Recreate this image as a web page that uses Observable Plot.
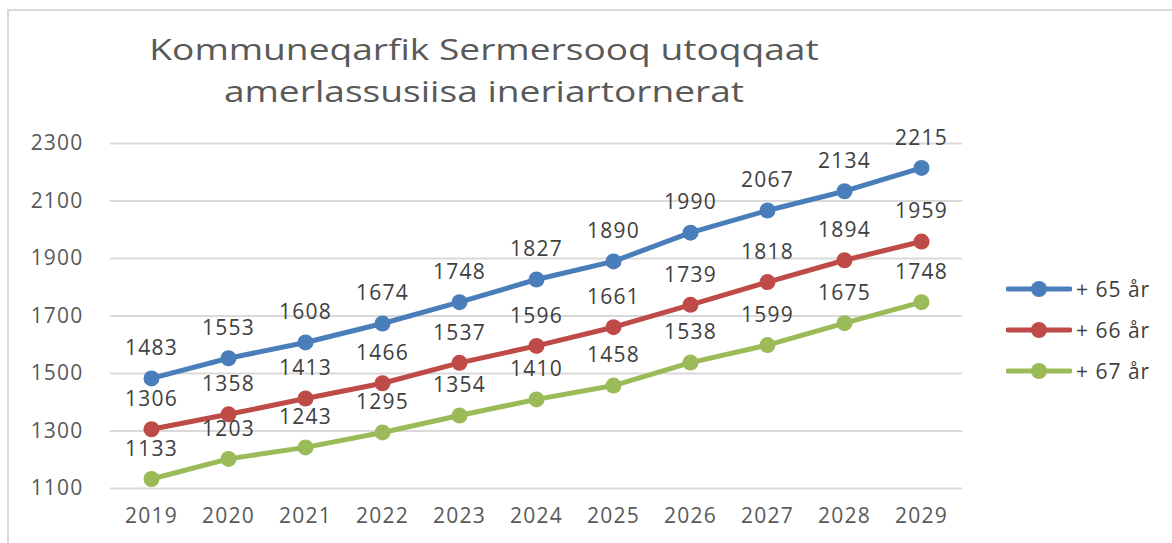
<!DOCTYPE html>
<html><head><meta charset="utf-8">
<script src="https://cdn.jsdelivr.net/npm/d3@7"></script>
<script src="https://cdn.jsdelivr.net/npm/@observablehq/plot@0.6"></script>
<style>
body{margin:0;background:#fff;font-family:"Open Sans",sans-serif;}
#wrap{position:relative;width:1172px;height:543px;overflow:hidden;}
#frame{position:absolute;left:7px;top:9px;width:1200px;height:600px;border-top:2px solid #d9d9d9;border-left:2px solid #d9d9d9;}
#title{position:absolute;left:84px;width:800px;top:28px;text-align:center;font-size:29px;line-height:42px;color:#595959;transform:scaleX(1.28);transform-origin:400px 0;}
#chart{position:absolute;left:0;top:0;}
#legend{position:absolute;left:1006px;top:268px;font-size:21px;letter-spacing:1px;color:#404040;}
.li{display:flex;align-items:center;height:41px;}
.li svg{margin-right:4px;}
</style></head><body>
<div id="wrap"><div id="frame"></div>
<div id="chart"></div>
<div id="title">Kommuneqarfik Sermersooq utoqqaat<br>amerlassusiisa ineriartornerat</div>
<div id="legend"></div></div>
<script>
const years = [2019,2020,2021,2022,2023,2024,2025,2026,2027,2028,2029];
const s65 = [1483,1553,1608,1674,1748,1827,1890,1990,2067,2134,2215];
const s66 = [1306,1358,1413,1466,1537,1596,1661,1739,1818,1894,1959];
const s67 = [1133,1203,1243,1295,1354,1410,1458,1538,1599,1675,1748];
const seriesNames = ["+ 65 år","+ 66 år","+ 67 år"];
const seriesColors = ["#4a7ebb","#be4b48","#9bbb59"];
const yTicks = [1100,1300,1500,1700,1900,2100,2300];

const rows = [];
[s65,s66,s67].forEach((vals,si)=>vals.forEach((v,i)=>rows.push({year:String(years[i]),value:v,series:seriesNames[si]})));

const chart = Plot.plot({
  width:1172, height:543,
  marginLeft:110, marginRight:210, marginTop:143, marginBottom:55,
  style:{fontFamily:"Open Sans, sans-serif", fontSize:"21px", letterSpacing:"1.2px", color:"#595959", background:"transparent"},
  x:{type:"point", domain:years.map(String), padding:0.5, label:null},
  y:{domain:[1100,2300], label:null},
  color:{domain:seriesNames, range:seriesColors},
  marks:[
    Plot.ruleY(yTicks,{stroke:"#d9d9d9",strokeWidth:2}),
    Plot.axisY({ticks:yTicks, tickFormat:d=>String(d), tickSize:0, tickPadding:27, label:null, fill:"#595959", fontSize:21}),
    Plot.axisX({tickSize:0, tickPadding:20, label:null, fill:"#595959", fontSize:21}),
    Plot.line(rows,{x:"year",y:"value",stroke:"series",strokeWidth:5}),
    Plot.dot(rows,{x:"year",y:"value",fill:"series",r:8}),
    Plot.text(rows,{x:"year",y:"value",text:d=>String(d.value),dy:-30,fill:"#404040",fontSize:21})
  ]
});
document.getElementById("chart").appendChild(chart);

const leg = document.getElementById("legend");
seriesNames.forEach((n,i)=>{
  const d = document.createElement("div"); d.className="li";
  d.innerHTML = `<svg width="66" height="20"><line x1="2" x2="64" y1="10" y2="10" stroke="${seriesColors[i]}" stroke-width="5" stroke-linecap="round"/><circle cx="33" cy="10" r="8" fill="${seriesColors[i]}"/></svg><span>${n}</span>`;
  leg.appendChild(d);
});
</script></body></html>
